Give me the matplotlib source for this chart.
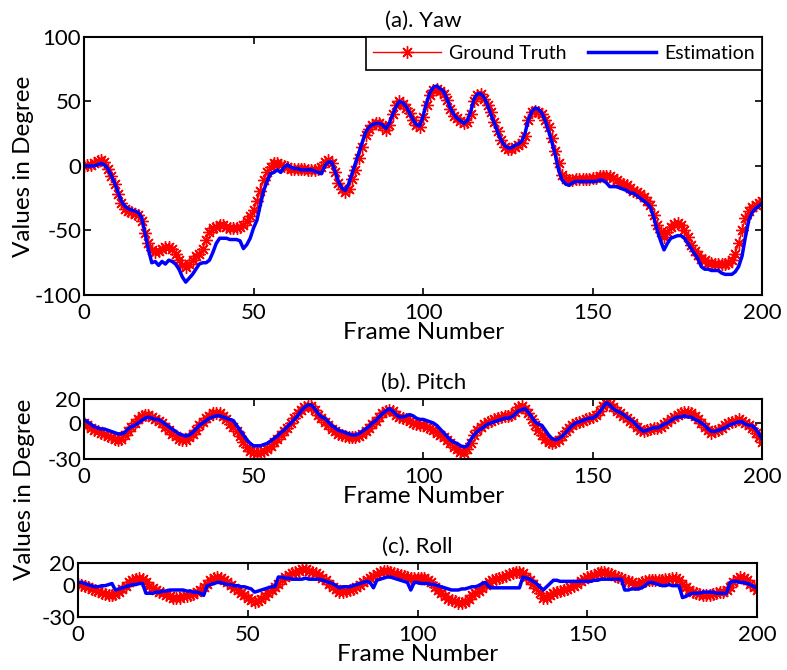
import matplotlib
matplotlib.use('Agg')
import matplotlib.pyplot as plt
import numpy as np

plt.rcParams['font.family'] = ['Lato', 'DejaVu Sans']
plt.rcParams['font.size'] = 16
plt.rcParams['axes.unicode_minus'] = False

frames = np.arange(0, 201)

# yaw (deg), one value per frame
yaw_gt = [0, 1, 1, 2, 4, 5, 3, -2, -8, -14,
          -22, -29, -33, -35, -36, -37, -38, -43, -52, -60,
          -65, -67, -66, -64, -63, -63, -64, -68, -73, -77,
          -78, -76, -73, -70, -68, -64, -57, -51, -48, -47,
          -46, -46, -47, -48, -48, -48, -47, -46, -43, -39,
          -34, -27, -19, -11, -5, -1, 2, 2, 1, 0,
          -1, -2, -2, -2, -2, -2, -3, -3, -3, -2,
          -1, 3, 5, 2, -5, -13, -18, -20, -18, -10,
          -3, 6, 15, 24, 29, 32, 33, 33, 31, 28,
          32, 40, 47, 50, 48, 45, 41, 36, 32, 30,
          38, 47, 55, 59, 60, 58, 56, 51, 44, 39,
          37, 35, 33, 34, 40, 50, 55, 56, 52, 47,
          42, 34, 27, 20, 15, 13, 13, 15, 16, 18,
          23, 36, 42, 43, 42, 40, 36, 30, 22, 12,
          2, -7, -10, -11, -11, -10, -10, -10, -10, -10,
          -9, -9, -8, -8, -8, -8, -9, -11, -13, -14,
          -15, -17, -19, -20, -22, -24, -27, -30, -38, -46,
          -51, -55, -51, -47, -45, -44, -46, -50, -55, -61,
          -66, -69, -72, -73, -75, -75, -76, -76, -76, -76,
          -75, -73, -68, -60, -50, -40, -35, -32, -30, -29,
          -27]
yaw_est = [0, 0, 0, 0, 1, 2, 1, -2, -7, -13,
           -20, -27, -31, -33, -34, -35, -36, -40, -52, -65,
           -75, -74, -77, -74, -76, -73, -74, -76, -80, -86,
           -90, -87, -84, -80, -76, -75, -75, -73, -67, -60,
           -56, -56, -56, -57, -57, -57, -58, -64, -61, -56,
           -48, -42, -30, -19, -12, -6, -5, -3, -5, -1,
           1, -1, -2, -2, -3, -3, -3, -3, -4, -5,
           -6, 0, 3, 3, -4, -12, -17, -19, -14, -6,
           2, 10, 18, 26, 30, 32, 33, 33, 32, 29,
           33, 40, 46, 50, 49, 46, 41, 36, 32, 31,
           39, 49, 57, 61, 62, 60, 58, 52, 45, 40,
           37, 35, 33, 35, 42, 52, 56, 56, 53, 47,
           40, 33, 26, 20, 16, 14, 14, 16, 17, 19,
           25, 36, 42, 45, 44, 41, 35, 27, 18, 8,
           -4, -11, -14, -15, -13, -12, -12, -12, -12, -12,
           -12, -12, -11, -11, -13, -16, -16, -16, -17, -18,
           -19, -21, -21, -23, -25, -27, -29, -32, -40, -50,
           -58, -65, -60, -56, -55, -54, -54, -56, -60, -64,
           -68, -72, -78, -80, -80, -81, -81, -81, -83, -84,
           -84, -84, -82, -78, -70, -55, -42, -36, -33, -31,
           -29]

pitch_gt = [0, -2, -4, -6, -7, -8, -9, -11, -12, -13,
            -14, -13, -10, -7, -3, 0, 3, 6, 7, 7,
            5, 3, 2, 0, -3, -6, -9, -11, -13, -14,
            -14, -12, -9, -6, -2, 1, 4, 6, 8, 8,
            8, 6, 3, -1, -3, -7, -11, -16, -20, -23,
            -24, -25, -24, -23, -22, -19, -16, -13, -10, -7,
            -4, 0, 4, 8, 11, 13, 14, 14, 11, 7,
            4, 1, -2, -5, -7, -9, -10, -11, -12, -12,
            -12, -11, -9, -7, -4, -1, 2, 5, 8, 10,
            11, 10, 7, 5, 4, 3, 2, 0, -1, -2,
            -2, -3, -4, -6, -8, -10, -12, -14, -17, -20,
            -22, -24, -25, -22, -17, -10, -6, -3, -1, 1,
            2, 3, 4, 5, 6, 6, 7, 9, 13, 14,
            12, 8, 3, -2, -6, -10, -13, -16, -17, -16,
            -14, -11, -7, -4, -2, 0, 1, 2, 3, 4,
            5, 7, 10, 14, 17, 16, 13, 10, 8, 6,
            4, 2, 0, -3, -6, -7, -6, -5, -4, -4,
            -3, -1, 1, 3, 5, 7, 8, 9, 9, 8,
            6, 3, 0, -3, -6, -8, -7, -6, -4, -2,
            0, 1, 2, 3, 2, 0, -2, -4, -8, -12,
            -16]
pitch_est = [3, 1, -1, -3, -4, -5, -5, -6, -7, -8,
             -9, -9, -8, -5, -3, -2, 0, 2, 4, 5,
             4, 3, 3, 1, -1, -3, -5, -7, -9, -10,
             -11, -10, -8, -5, -2, 0, 2, 4, 5, 6,
             6, 5, 4, 3, 2, -2, -6, -10, -14, -17,
             -19, -19, -19, -18, -17, -15, -13, -11, -8, -6,
             -3, 0, 3, 6, 10, 13, 15, 15, 12, 8,
             5, 4, 1, -2, -4, -6, -7, -8, -9, -10,
             -10, -9, -7, -5, -3, 0, 2, 5, 8, 10,
             12, 10, 7, 5, 5, 6, 7, 6, 4, 3,
             3, 2, 1, 0, -2, -5, -8, -11, -14, -16,
             -17, -19, -20, -19, -14, -10, -7, -5, -3, -1,
             0, 1, 2, 3, 4, 4, 5, 7, 10, 11,
             12, 9, 5, 1, -1, -2, -6, -10, -13, -14,
             -13, -11, -8, -5, -2, 0, 1, 2, 3, 4,
             4, 6, 9, 13, 17, 15, 12, 10, 9, 7,
             5, 3, 1, -2, -5, -7, -6, -5, -4, -4,
             -3, -1, 0, 2, 4, 5, 5, 6, 5, 5,
             3, 2, 0, -2, -5, -7, -7, -6, -5, -4,
             -2, -1, 0, 1, 1, -1, -2, -2, -5, -9,
             -14]

roll_gt = [1, 0, -1, -2, -4, -5, -6, -8, -9, -10,
           -10, -9, -7, -4, -1, 2, 4, 5, 6, 5,
           2, -1, -3, -5, -7, -8, -10, -11, -12, -12,
           -12, -11, -11, -10, -9, -7, -5, -2, 1, 4,
           6, 7, 6, 4, 2, 0, -3, -5, -8, -10,
           -12, -14, -16, -15, -13, -11, -8, -5, -2, 1,
           4, 7, 9, 11, 12, 13, 14, 14, 13, 12,
           11, 9, 6, 4, 1, -2, -4, -7, -7, -6,
           -5, -4, -2, 0, 2, 4, 6, 8, 10, 12,
           13, 13, 12, 11, 10, 9, 8, 7, 6, 6,
           6, 6, 6, 4, 2, -2, -5, -8, -11, -13,
           -14, -15, -17, -17, -16, -13, -10, -8, -6, -3,
           0, 2, 4, 5, 6, 7, 8, 10, 11, 12,
           12, 11, 7, 4, 1, -3, -8, -12, -12, -10,
           -8, -7, -6, -5, -4, -2, -1, 1, 3, 5,
           7, 8, 9, 11, 12, 12, 11, 10, 8, 7,
           6, 4, 3, 2, 1, 1, 2, 3, 4, 4,
           4, 4, 4, 5, 5, 6, 6, 4, 1, -2,
           -5, -7, -8, -9, -10, -10, -10, -9, -8, -7,
           -7, -5, -2, 2, 5, 7, 6, 4, 1, -2,
           -5]
roll_est = [2, 2, 1, 0, -1, -2, -2, -1, -1, 0,
            1, -5, -4, -3, -2, -1, 0, 0, 1, 1,
            -8, -8, -8, -7, -7, -6, -6, -5, -5, -5,
            -5, -5, -6, -6, -7, -7, -8, -10, -1, 0,
            1, 2, 2, 1, 0, 0, -1, -1, -2, -2,
            -3, -4, -7, -6, -5, -4, -3, -2, -2, 7,
            7, 6, 6, 5, 5, 5, 5, 6, 5, 5,
            5, 5, 4, 3, 2, 1, -1, -3, -2, -2,
            -2, -1, 0, 1, 2, 3, 2, -3, 4, 5,
            6, 7, 7, 6, 5, 4, 3, 2, -5, 2,
            2, 1, 1, 1, 0, 0, -1, -2, -3, -4,
            -5, -5, -5, -4, -4, -3, -2, -2, -1, 1,
            2, -2, -3, -3, -3, -3, -3, -3, -3, -3,
            -3, 7, 6, 5, 3, 1, -2, -5, -2, 1,
            4, 4, 3, 3, 3, 3, 3, 3, 3, 3,
            3, 3, 4, 4, 5, 5, 5, 5, 5, 5,
            5, -5, -5, -4, -4, -4, -3, -1, 2, 2,
            1, 0, -1, -1, 0, -1, -1, -1, -12, -11,
            -9, -8, -8, -8, -7, -7, -7, -7, -8, -8,
            -8, -8, 2, 3, 3, 2, 2, 1, 0, -2,
            -3]

xticks = [0, 50, 100, 150, 200]

# matlab style asterisk
star = (8, 2, 0)


def style_axis(ax, yticks, ylim):
    ax.set_xlim(0, 200)
    ax.set_ylim(ylim)
    ax.set_xticks(xticks)
    ax.set_yticks(yticks)
    ax.tick_params(direction='in', top=True, right=True, length=5, width=1.2,
                   labelsize=16)
    ax.tick_params(axis='x', pad=6)
    ax.tick_params(axis='y', pad=2)
    for s in ax.spines.values():
        s.set_linewidth(1.5)


def draw(ax, gt, est):
    ax.plot(frames, gt, '-', marker=star, color='red', linewidth=1,
            markersize=9, markeredgewidth=1, label='Ground Truth')
    ax.plot(frames, est, '-', color='blue', linewidth=2.5, label='Estimation')


fig = plt.figure(figsize=(7.87, 6.70), dpi=100)

ax1 = fig.add_axes([0.1067, 0.5597, 0.862, 0.3851])
draw(ax1, yaw_gt, yaw_est)
style_axis(ax1, [-100, -50, 0, 50, 100], (-100, 100))
ax1.set_title('(a). Yaw', fontsize=16, pad=7)
ax1.set_xlabel('Frame Number', fontsize=17.5, labelpad=-1)
ax1.set_ylabel('Values in Degree', fontsize=17.5, labelpad=0)
leg = ax1.legend(loc='upper right', ncol=2, fancybox=False, edgecolor='black',
                 framealpha=1, borderaxespad=0, handlelength=3.5,
                 handletextpad=0.4, columnspacing=1.1, fontsize=14)
leg.get_frame().set_linewidth(1.2)

ax2 = fig.add_axes([0.1067, 0.3149, 0.862, 0.0896])
draw(ax2, pitch_gt, pitch_est)
style_axis(ax2, [-30, 0, 20], (-30, 20))
ax2.set_title('(b). Pitch', fontsize=16, pad=7)
ax2.set_xlabel('Frame Number', fontsize=17.5, labelpad=-1)

ax3 = fig.add_axes([0.0991, 0.0791, 0.863, 0.0806])
draw(ax3, roll_gt, roll_est)
style_axis(ax3, [-30, 0, 20], (-30, 20))
ax3.set_title('(c). Roll', fontsize=16, pad=7)
ax3.set_xlabel('Frame Number', fontsize=17.5, labelpad=-1)

fig.text(0.031, 0.27, 'Values in Degree', rotation=90, fontsize=17.5,
         ha='center', va='center')

fig.savefig('out.png', dpi=100)
